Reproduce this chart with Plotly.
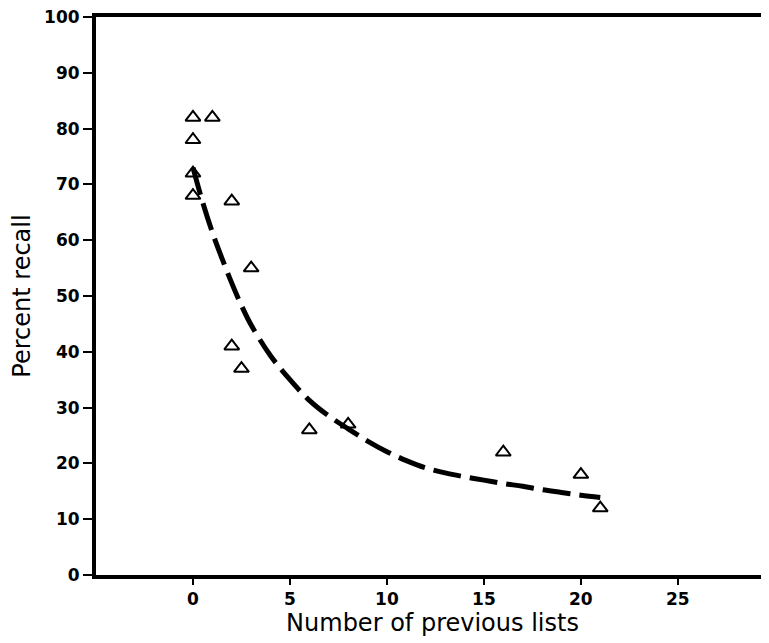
import plotly.graph_objects as go

# Observed data points (triangles)
obs_x = [0, 1, 0, 0, 0, 2, 3, 2, 2.5, 6, 8, 16, 20, 21]
obs_y = [82, 82, 78, 72, 68, 67, 55, 41, 37, 26, 27, 22, 18, 12]

# Fitted curve (dashed)
fit_x = [0, 0.5, 1, 1.5, 2, 2.5, 3, 4, 5, 6, 7, 8, 9, 10, 11, 12, 13, 14, 15, 16, 17, 18, 19, 20, 21]
fit_y = [73, 66.8, 61.4, 56.7, 52.3, 48.3, 44.8, 39.3, 35.0, 31.3, 28.5, 26.2, 24.0, 22.1, 20.5, 19.2, 18.3, 17.6, 17.0, 16.4, 15.9, 15.3, 14.8, 14.3, 13.9]

xticks = [0, 5, 10, 15, 20, 25]
yticks = [0, 10, 20, 30, 40, 50, 60, 70, 80, 90, 100]

FONT = "DejaVu Sans"

fig = go.Figure()
fig.add_trace(go.Scatter(
    x=fit_x, y=fit_y, mode="lines", line_shape="spline",
    line=dict(color="black", width=5, dash="28px,9px"),
    showlegend=False, hoverinfo="skip"))
fig.add_trace(go.Scatter(
    x=obs_x, y=obs_y, mode="markers",
    marker=dict(symbol="triangle-up-open", size=13, color="black", line=dict(width=2, color="black")),
    showlegend=False))

# page body has an 8px default margin, so the figure is sized to fit the window
fig.update_layout(
    width=761, height=635,
    margin=dict(l=88, r=0, t=9, b=68, autoexpand=False),
    paper_bgcolor="white", plot_bgcolor="white",
    font=dict(family=FONT, color="black"),
    xaxis=dict(
        range=[-5, 29.7], tickvals=xticks, ticktext=[str(v) for v in xticks],
        showgrid=False, zeroline=False, showline=True, linecolor="black", linewidth=4,
        mirror=True, ticks="outside", ticklen=6, tickwidth=2, tickcolor="black",
        tickfont=dict(size=17, family=FONT, weight="bold"),
        ticklabeloverflow="allow",
        title=dict(text="Number of previous lists", font=dict(size=24, family=FONT), standoff=6),
    ),
    yaxis=dict(
        range=[0, 100], tickvals=yticks, ticktext=[str(v) for v in yticks],
        showgrid=False, zeroline=False, showline=True, linecolor="black", linewidth=4,
        mirror=False, ticks="outside", ticklen=9, tickwidth=2, tickcolor="black",
        tickfont=dict(size=17, family=FONT, weight="bold"),
        ticklabeloverflow="allow",
        title=dict(text="Percent recall", font=dict(size=24, family=FONT), standoff=16),
    ),
)

fig.write_html("out.html")
